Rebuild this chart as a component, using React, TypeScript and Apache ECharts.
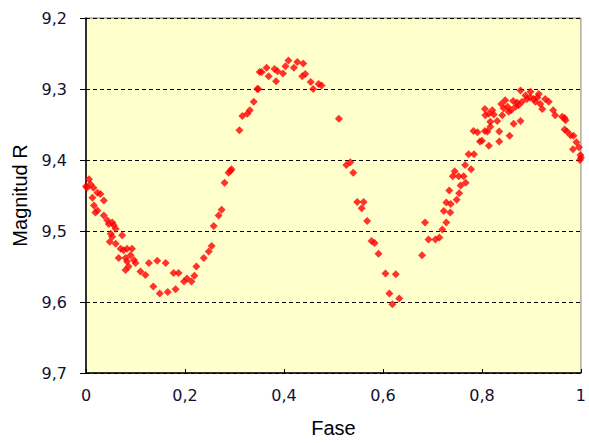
import React, { useEffect, useRef } from "react";
import * as echarts from "echarts";

const xTicks = [0, 0.2, 0.4, 0.6, 0.8, 1];
const yTicks = [9.2, 9.3, 9.4, 9.5, 9.6, 9.7];

const phase = [
  0.000, 0.006, 0.002, 0.009, 0.015, 0.023, 0.029, 0.013, 0.036, 0.016, 0.023, 0.019, 0.036, 0.043, 0.046, 0.053,
  0.056, 0.060, 0.050, 0.053, 0.048, 0.060, 0.073, 0.070, 0.076, 0.083, 0.093, 0.066, 0.080, 0.090, 0.083, 0.097,
  0.080, 0.086, 0.100, 0.110, 0.120, 0.127, 0.144, 0.161, 0.136, 0.149, 0.165, 0.181, 0.177, 0.187, 0.198, 0.204,
  0.213, 0.219, 0.223, 0.238, 0.248, 0.254, 0.258, 0.268, 0.274, 0.280, 0.288, 0.292, 0.294, 0.310, 0.316, 0.326,
  0.331, 0.339, 0.346, 0.348, 0.351, 0.355, 0.365, 0.369, 0.381, 0.387, 0.384, 0.398, 0.403, 0.409,
  0.420, 0.427, 0.439, 0.437, 0.443, 0.454, 0.459, 0.470, 0.476, 0.511, 0.526, 0.534, 0.540, 0.548, 0.561, 0.557,
  0.568, 0.577, 0.583, 0.591, 0.605, 0.626, 0.613, 0.619, 0.633,
  0.679, 0.685, 0.692, 0.706, 0.714, 0.720, 0.728, 0.736, 0.723, 0.728, 0.737, 0.734, 0.749, 0.754, 0.757, 0.767,
  0.741, 0.753, 0.763, 0.745, 0.766, 0.778, 0.773, 0.784, 0.796, 0.800, 0.814, 0.783, 0.791, 0.806, 0.811, 0.806,
  0.807, 0.814, 0.817, 0.817, 0.821, 0.824, 0.835, 0.835, 0.841, 0.839, 0.847, 0.844, 0.852, 0.854, 0.859, 0.856,
  0.864, 0.878, 0.863, 0.871, 0.868, 0.874, 0.878, 0.881, 0.888, 0.891, 0.898, 0.898, 0.905, 0.912, 0.915, 0.908,
  0.918, 0.922, 0.928, 0.935, 0.944, 0.948, 0.962, 0.967, 0.969, 0.967, 0.972, 0.979, 0.985, 0.991, 0.984, 0.996,
  1.000, 0.999, 0.998, 0.831,
];

const magnitude = [
  9.437, 9.427, 9.439, 9.434, 9.439, 9.446, 9.448, 9.453, 9.457, 9.464, 9.471, 9.474, 9.478, 9.485, 9.490, 9.488,
  9.492, 9.497, 9.504, 9.508, 9.515, 9.518, 9.506, 9.525, 9.527, 9.525, 9.525, 9.538, 9.538, 9.534, 9.543, 9.541,
  9.555, 9.550, 9.545, 9.557, 9.562, 9.545, 9.542, 9.545, 9.578, 9.588, 9.586, 9.582, 9.559, 9.559, 9.571, 9.567,
  9.571, 9.563, 9.550, 9.538, 9.529, 9.521, 9.493, 9.478, 9.470, 9.432, 9.418, 9.415, 9.413, 9.358, 9.338, 9.335,
  9.330, 9.318, 9.300, 9.300, 9.276, 9.276, 9.270, 9.282, 9.272, 9.275, 9.289, 9.278, 9.268, 9.260,
  9.270, 9.262, 9.264, 9.282, 9.279, 9.290, 9.300, 9.293, 9.295, 9.342, 9.407, 9.403, 9.418, 9.459, 9.459, 9.468,
  9.486, 9.514, 9.517, 9.532, 9.560, 9.561, 9.588, 9.603, 9.595,
  9.534, 9.488, 9.512, 9.512, 9.509, 9.498, 9.488, 9.474, 9.472, 9.460, 9.462, 9.443, 9.456, 9.447, 9.436, 9.432,
  9.423, 9.423, 9.423, 9.416, 9.407, 9.413, 9.392, 9.392, 9.374, 9.373, 9.380, 9.359, 9.361, 9.359, 9.360, 9.328,
  9.337, 9.335, 9.346, 9.353, 9.330, 9.336, 9.360, 9.374, 9.337, 9.321, 9.316, 9.327, 9.325, 9.332, 9.330, 9.366,
  9.349, 9.345, 9.317, 9.319, 9.325, 9.323, 9.302, 9.318, 9.309, 9.314, 9.312, 9.304, 9.314, 9.312, 9.307, 9.318,
  9.321, 9.328, 9.314, 9.318, 9.330, 9.337, 9.339, 9.341, 9.344, 9.357, 9.360, 9.365, 9.366, 9.375, 9.385, 9.382,
  9.397, 9.393, 9.400, 9.345,
];

const fmt = (v: number) => (Number.isInteger(v) ? String(v) : v.toFixed(1).replace(".", ","));

export default function App() {
  const ref = useRef<HTMLDivElement>(null);
  useEffect(() => {
    document.body.style.margin = "0";
    if (!ref.current) return;
    const chart = echarts.init(ref.current, undefined, { renderer: "svg" });
    const points = phase.map((p, i) => [p, magnitude[i]]);
    const nameFont = "'Liberation Sans', Arial, sans-serif";
    const tickFont = "'DejaVu Sans', Verdana, sans-serif";
    chart.setOption({
      animation: false,
      backgroundColor: "#ffffff",
      grid: {
        left: 86,
        right: 8,
        top: 18,
        bottom: 65,
        show: true,
        backgroundColor: "#ffffcc",
        borderColor: "#808080",
        borderWidth: 1,
      },
      xAxis: {
        type: "value",
        min: xTicks[0],
        max: xTicks[xTicks.length - 1],
        interval: 0.2,
        name: "Fase",
        nameLocation: "middle",
        nameGap: 45,
        nameTextStyle: { fontFamily: nameFont, fontSize: 20, color: "#000", fontWeight: "normal" },
        axisLine: { show: true, lineStyle: { color: "#000", width: 1.5 } },
        axisTick: { show: true, inside: true, length: 4, lineStyle: { color: "#000" } },
        axisLabel: { formatter: fmt, fontFamily: tickFont, fontSize: 16, color: "#111133", margin: 14 },
        splitLine: { show: false },
      },
      yAxis: {
        type: "value",
        inverse: true,
        min: yTicks[0],
        max: yTicks[yTicks.length - 1],
        interval: 0.1,
        name: "Magnitud R",
        nameLocation: "middle",
        nameGap: 56,
        nameTextStyle: { fontFamily: nameFont, fontSize: 20, color: "#000", fontWeight: "normal" },
        axisLine: { show: true, lineStyle: { color: "#000", width: 1.5 } },
        axisTick: { show: true, inside: false, length: 6, lineStyle: { color: "#000" } },
        axisLabel: { formatter: fmt, fontFamily: tickFont, fontSize: 16, color: "#111133", margin: 19 },
        splitLine: { show: true, lineStyle: { color: "#000", type: [4, 3], width: 1 } },
      },
      series: [
        {
          type: "scatter",
          data: points,
          symbol: "diamond",
          symbolSize: 8,
          clip: false,
          itemStyle: { color: "#ff0000" },
        },
      ],
    });
    return () => chart.dispose();
  }, []);
  return (
    <div
      ref={ref}
      style={{ position: "fixed", left: 0, top: 0, width: 589, height: 443 }}
    />
  );
}
